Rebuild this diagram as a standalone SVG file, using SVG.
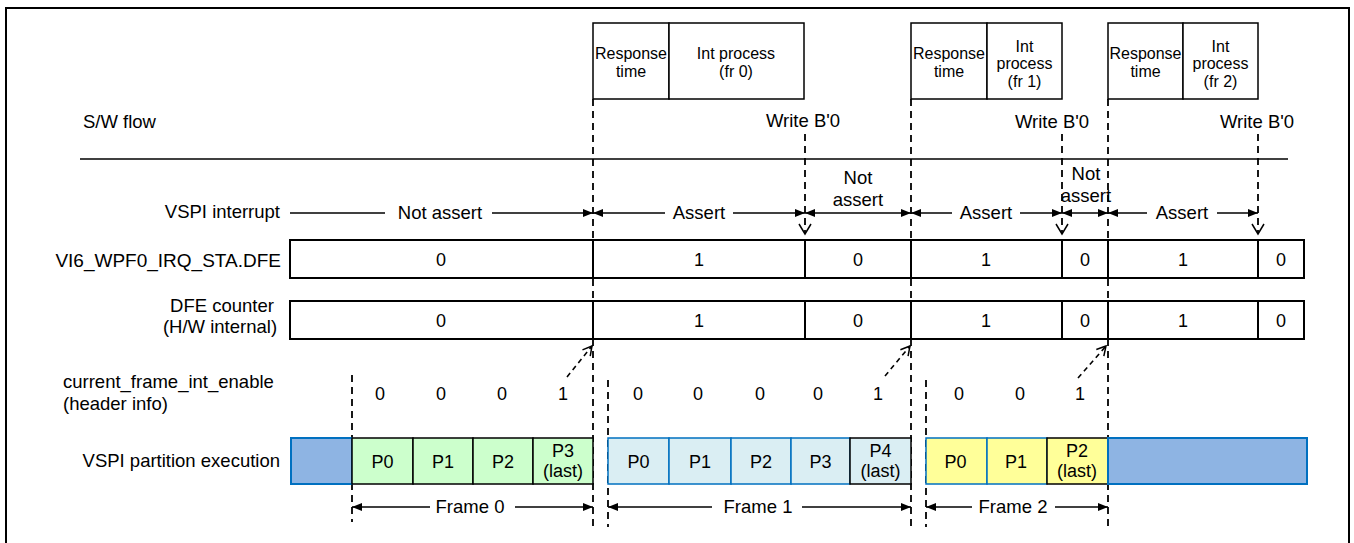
<svg xmlns="http://www.w3.org/2000/svg" width="1354" height="543" viewBox="0 0 1354 543">
<style>
.t{font-family:"Liberation Sans",Arial,sans-serif;fill:#000}
.lbl{font-size:18.5px}
.sm{font-size:16px}
.num{font-size:18px}
.m{text-anchor:middle}
.e{text-anchor:end}
.box{fill:#fff;stroke:#000;stroke-width:1.5}
.cell{fill:#fff;stroke:#000;stroke-width:2}
.dash{stroke:#000;stroke-width:1.8;stroke-dasharray:7 5;fill:none}
.ddash{stroke:#000;stroke-width:1.6;stroke-dasharray:5 4;fill:none}
.ln{stroke:#000;stroke-width:1.5;fill:none}
.g0{fill:#CCFFCC;stroke:#000;stroke-width:1.5}
.f1{fill:#DAEEF3;stroke:#0070C0;stroke-width:1.5}
.f1k{fill:#DAEEF3;stroke:#000;stroke-width:1.5}
.y2{fill:#FFFF99;stroke:#0070C0;stroke-width:1.5}
.y2k{fill:#FFFF99;stroke:#000;stroke-width:1.5}
.idle{fill:#8EB4E3;stroke:#0070C0;stroke-width:2}
</style>
<defs>
<marker id="ah" markerUnits="userSpaceOnUse" viewBox="0 0 10 8" markerWidth="10" markerHeight="8" refX="10" refY="4" orient="auto-start-reverse">
<path d="M0,0 L10,4 L0,8 z" fill="#000"/>
</marker>
<marker id="chev" markerUnits="userSpaceOnUse" viewBox="-1 -7 13 14" markerWidth="13" markerHeight="14" refX="10" refY="0" orient="auto">
<path d="M0,-6 L10,0 L0,6" fill="none" stroke="#000" stroke-width="1.5"/>
</marker>
<marker id="chev2" markerUnits="userSpaceOnUse" viewBox="-1 -6 11 12" markerWidth="11" markerHeight="12" refX="9" refY="0" orient="auto">
<path d="M0,-5 L9,0 L0,5" fill="none" stroke="#000" stroke-width="1.5"/>
</marker>
</defs>
<rect x="6" y="8" width="1343" height="560" fill="#fff" stroke="#000" stroke-width="2"/>

<g id="connectors">
<line class="ln" x1="80" y1="159" x2="1288" y2="159"/>
<line class="dash" x1="593" y1="99" x2="593" y2="527"/>
<line class="dash" x1="911" y1="99" x2="911" y2="527"/>
<line class="dash" x1="1108" y1="99" x2="1108" y2="527"/>
<line class="dash" x1="805" y1="134" x2="805" y2="234" marker-end="url(#chev)"/>
<line class="dash" x1="1062" y1="134" x2="1062" y2="234" marker-end="url(#chev)"/>
<line class="dash" x1="1258" y1="134" x2="1258" y2="234" marker-end="url(#chev)"/>
<line class="dash" x1="352" y1="375" x2="352" y2="522"/>
<line class="dash" x1="608" y1="380" x2="608" y2="527"/>
<line class="dash" x1="926" y1="380" x2="926" y2="527"/>
<line class="ddash" x1="567" y1="377" x2="592" y2="346" marker-end="url(#chev2)"/>
<line class="ddash" x1="885" y1="376" x2="910" y2="346" marker-end="url(#chev2)"/>
<line class="ddash" x1="1078" y1="378" x2="1106" y2="346" marker-end="url(#chev2)"/>
<line class="ln" x1="290" y1="213" x2="385" y2="213"/>
<line class="ln" x1="492" y1="213" x2="593" y2="213" marker-end="url(#ah)"/>
<line class="ln" x1="593" y1="213" x2="665" y2="213" marker-start="url(#ah)"/>
<line class="ln" x1="733" y1="213" x2="805" y2="213" marker-end="url(#ah)"/>
<line class="ln" x1="805" y1="213" x2="911" y2="213" marker-start="url(#ah)" marker-end="url(#ah)"/>
<line class="ln" x1="911" y1="213" x2="952" y2="213" marker-start="url(#ah)"/>
<line class="ln" x1="1020" y1="213" x2="1062" y2="213" marker-end="url(#ah)"/>
<line class="ln" x1="1062" y1="213" x2="1108" y2="213" marker-start="url(#ah)" marker-end="url(#ah)"/>
<line class="ln" x1="1108" y1="213" x2="1147" y2="213" marker-start="url(#ah)"/>
<line class="ln" x1="1217" y1="213" x2="1258" y2="213" marker-end="url(#ah)"/>
<line class="ln" x1="352" y1="507" x2="430" y2="507" marker-start="url(#ah)"/>
<line class="ln" x1="515" y1="507" x2="593" y2="507" marker-end="url(#ah)"/>
<line class="ln" x1="608" y1="507" x2="712" y2="507" marker-start="url(#ah)"/>
<line class="ln" x1="802" y1="507" x2="911" y2="507" marker-end="url(#ah)"/>
<line class="ln" x1="926" y1="507" x2="972" y2="507" marker-start="url(#ah)"/>
<line class="ln" x1="1055" y1="507" x2="1108" y2="507" marker-end="url(#ah)"/>
</g>

<g id="labels">
<text class="t lbl" x="83" y="128">S/W flow</text>
<text class="t lbl e" x="280" y="218">VSPI interrupt</text>
<text class="t lbl e" x="281" y="267" style="font-size:19px">VI6_WPF0_IRQ_STA.DFE</text>
<text class="t lbl m" x="222" y="312">DFE counter</text>
<text class="t lbl m" x="220" y="333">(H/W internal)</text>
<text class="t lbl" x="63" y="388">current_frame_int_enable</text>
<text class="t lbl" x="63" y="410">(header info)</text>
<text class="t lbl e" x="280" y="467">VSPI partition execution</text>
</g>

<g id="sw-fr0">
<rect class="box" x="593" y="23" width="76" height="76"/>
<rect class="box" x="669" y="23" width="135" height="76"/>
<text class="t sm m" x="631" y="59">Response</text>
<text class="t sm m" x="631" y="77">time</text>
<text class="t sm m" x="736" y="59">Int process</text>
<text class="t sm m" x="736" y="77">(fr 0)</text>
</g>
<g id="sw-fr1">
<rect class="box" x="911" y="23" width="76" height="76"/>
<rect class="box" x="987" y="23" width="75" height="76"/>
<text class="t sm m" x="949" y="59">Response</text>
<text class="t sm m" x="949" y="77">time</text>
<text class="t sm m" x="1024.5" y="52">Int</text>
<text class="t sm m" x="1024.5" y="69">process</text>
<text class="t sm m" x="1024.5" y="87">(fr 1)</text>
</g>
<g id="sw-fr2">
<rect class="box" x="1108" y="23" width="75" height="76"/>
<rect class="box" x="1183" y="23" width="75" height="76"/>
<text class="t sm m" x="1145.5" y="59">Response</text>
<text class="t sm m" x="1145.5" y="77">time</text>
<text class="t sm m" x="1220.5" y="52">Int</text>
<text class="t sm m" x="1220.5" y="69">process</text>
<text class="t sm m" x="1220.5" y="87">(fr 2)</text>
</g>
<g id="write-labels">
<text class="t lbl m" x="803" y="127">Write B'0</text>
<text class="t lbl m" x="1052" y="128">Write B'0</text>
<text class="t lbl m" x="1257" y="128">Write B'0</text>
</g>

<g id="irq-labels">
<text class="t lbl m" x="440" y="219">Not assert</text>
<text class="t lbl m" x="699" y="219">Assert</text>
<text class="t lbl m" x="858" y="184">Not</text>
<text class="t lbl m" x="858" y="206">assert</text>
<text class="t lbl m" x="986" y="219">Assert</text>
<text class="t lbl m" x="1086" y="180">Not</text>
<text class="t lbl m" x="1086" y="202">assert</text>
<text class="t lbl m" x="1182" y="219">Assert</text>
</g>

<g id="row-irq-sta">
<rect class="cell" x="290" y="240" width="303" height="38"/>
<rect class="cell" x="593" y="240" width="212" height="38"/>
<rect class="cell" x="805" y="240" width="106" height="38"/>
<rect class="cell" x="911" y="240" width="151" height="38"/>
<rect class="cell" x="1062" y="240" width="46" height="38"/>
<rect class="cell" x="1108" y="240" width="150" height="38"/>
<rect class="cell" x="1258" y="240" width="46" height="38"/>
<text class="t num m" x="441" y="266">0</text>
<text class="t num m" x="699" y="266">1</text>
<text class="t num m" x="858" y="266">0</text>
<text class="t num m" x="986" y="266">1</text>
<text class="t num m" x="1085" y="266">0</text>
<text class="t num m" x="1183" y="266">1</text>
<text class="t num m" x="1281" y="266">0</text>
</g>

<g id="row-dfe-counter">
<rect class="cell" x="290" y="301" width="303" height="38"/>
<rect class="cell" x="593" y="301" width="212" height="38"/>
<rect class="cell" x="805" y="301" width="106" height="38"/>
<rect class="cell" x="911" y="301" width="151" height="38"/>
<rect class="cell" x="1062" y="301" width="46" height="38"/>
<rect class="cell" x="1108" y="301" width="150" height="38"/>
<rect class="cell" x="1258" y="301" width="46" height="38"/>
<text class="t num m" x="441" y="327">0</text>
<text class="t num m" x="699" y="327">1</text>
<text class="t num m" x="858" y="327">0</text>
<text class="t num m" x="986" y="327">1</text>
<text class="t num m" x="1085" y="327">0</text>
<text class="t num m" x="1183" y="327">1</text>
<text class="t num m" x="1281" y="327">0</text>
</g>

<g id="row-int-enable">
<text class="t num m" x="380" y="400">0</text>
<text class="t num m" x="441" y="400">0</text>
<text class="t num m" x="502" y="400">0</text>
<text class="t num m" x="563" y="400">1</text>
<text class="t num m" x="638" y="400">0</text>
<text class="t num m" x="698" y="400">0</text>
<text class="t num m" x="760" y="400">0</text>
<text class="t num m" x="818" y="400">0</text>
<text class="t num m" x="878" y="400">1</text>
<text class="t num m" x="959" y="400">0</text>
<text class="t num m" x="1020" y="400">0</text>
<text class="t num m" x="1080" y="400">1</text>
</g>

<g id="idle-start"><rect class="idle" x="291" y="438" width="61" height="46"/></g>
<g id="frame0">
<rect class="g0" x="352" y="438" width="61" height="46"/>
<rect class="g0" x="413" y="438" width="60" height="46"/>
<rect class="g0" x="473" y="438" width="60" height="46"/>
<rect class="g0" x="533" y="438" width="60" height="46"/>
<text class="t num m" x="382.5" y="468">P0</text>
<text class="t num m" x="443" y="468">P1</text>
<text class="t num m" x="503" y="468">P2</text>
<text class="t num m" x="563" y="457">P3</text>
<text class="t num m" x="563" y="477">(last)</text>
<text class="t lbl m" x="470" y="513">Frame 0</text>
</g>
<g id="frame1">
<rect class="f1" x="608" y="438" width="61" height="46"/>
<rect class="f1" x="669" y="438" width="62" height="46"/>
<rect class="f1" x="731" y="438" width="60" height="46"/>
<rect class="f1" x="791" y="438" width="59" height="46"/>
<rect class="f1k" x="850" y="438" width="61" height="46"/>
<text class="t num m" x="638.5" y="468">P0</text>
<text class="t num m" x="700" y="468">P1</text>
<text class="t num m" x="761" y="468">P2</text>
<text class="t num m" x="820.5" y="468">P3</text>
<text class="t num m" x="880.5" y="457">P4</text>
<text class="t num m" x="880.5" y="477">(last)</text>
<text class="t lbl m" x="758" y="513">Frame 1</text>
</g>
<g id="frame2">
<rect class="y2" x="926" y="438" width="61" height="46"/>
<rect class="y2" x="987" y="438" width="60" height="46"/>
<rect class="y2k" x="1047" y="438" width="61" height="46"/>
<text class="t num m" x="955.5" y="468">P0</text>
<text class="t num m" x="1016" y="468">P1</text>
<text class="t num m" x="1077" y="457">P2</text>
<text class="t num m" x="1077" y="477">(last)</text>
<text class="t lbl m" x="1013" y="513">Frame 2</text>
</g>
<g id="idle-end"><rect class="idle" x="1108" y="438" width="199" height="46"/></g>
</svg>
